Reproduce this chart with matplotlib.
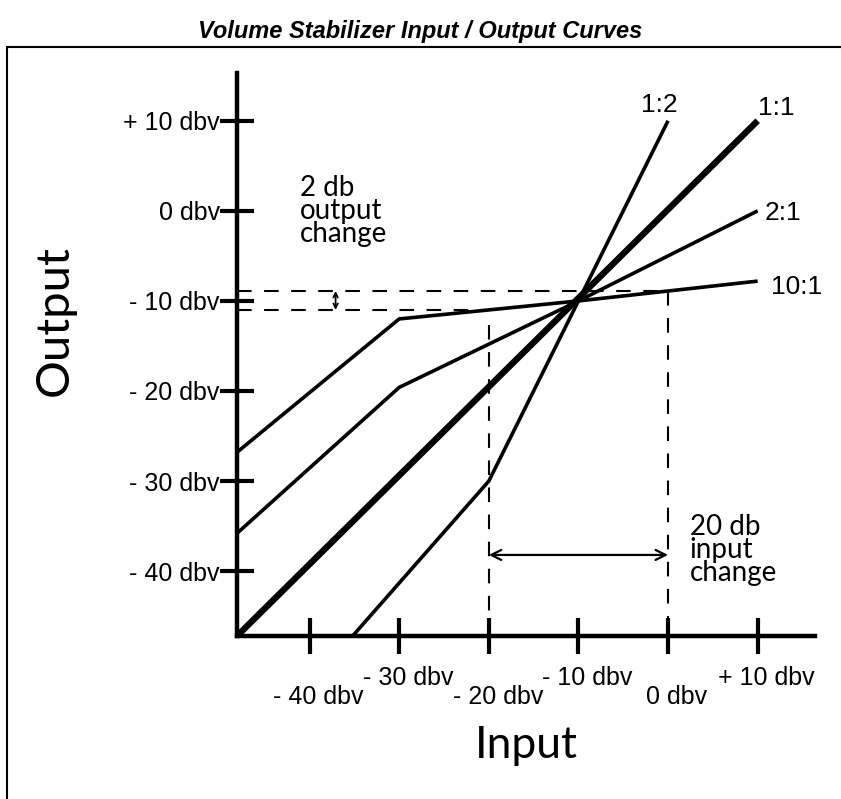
import matplotlib
matplotlib.use('Agg')
import matplotlib.pyplot as plt
from matplotlib.patches import Rectangle

plt.rcParams['font.family'] = ['Liberation Sans', 'DejaVu Sans']

# Tick values and labels (dBV)
x_ticks = [-40, -30, -20, -10, 0, 10]
x_labels = ['- 40 dbv', '- 30 dbv', '- 20 dbv', '- 10 dbv', '0 dbv', '+ 10 dbv']
y_ticks = [-40, -30, -20, -10, 0, 10]
y_labels = ['- 40 dbv', '- 30 dbv', '- 20 dbv', '- 10 dbv', '0 dbv', '+ 10 dbv']

# Input / output curves (input dBV -> output dBV)
in_1to1 = [-48.1, 10]
out_1to1 = [-47.2, 10]
in_1to2 = [-35.2, -20, -10, 0]
out_1to2 = [-47.2, -30, -10, 10]
in_2to1 = [-48.1, -30, -10, 10]
out_2to1 = [-35.8, -19.6, -10, 0]
in_10to1 = [-48.1, -30, -10, 10]
out_10to1 = [-26.8, -12, -10, -7.8]

# Reference levels for the dashed guide lines
out_hi = -8.9    # 10:1 output at 0 dbv input
out_lo = -11.0   # 10:1 output at -20 dbv input
in_hi = 0
in_lo = -20

fig = plt.figure(figsize=(8.41, 7.99), dpi=100)
ax = fig.add_axes([0.2818, 0.2040, 0.6873, 0.7046])
ax.set_xlim(-48.1, 16.4)
ax.set_ylim(-47.2, 15.3)

# outer frame (right / bottom edges fall outside the picture)
fig.patches.append(Rectangle((7 / 841, -0.05), 1.0, (799 - 47) / 799 + 0.05,
                             transform=fig.transFigure, fill=False,
                             edgecolor='black', linewidth=1.5))

fig.text(0.5, 0.960, 'Volume Stabilizer Input / Output Curves',
         ha='center', va='center', fontsize=17, fontweight='bold', style='italic')

# curves
ax.plot(in_1to1, out_1to1, color='black', linewidth=4.6, solid_capstyle='butt')
for xs, ys in [(in_1to2, out_1to2), (in_2to1, out_2to1), (in_10to1, out_10to1)]:
    ax.plot(xs, ys, color='black', linewidth=2.6, solid_joinstyle='miter',
            solid_capstyle='butt')

# dashed guides
ymin = ax.get_ylim()[0]
xmin = ax.get_xlim()[0]
dash = dict(color='black', linewidth=1.5, dashes=(7, 6))
ax.plot([xmin, in_hi], [out_hi, out_hi], **dash)
ax.plot([in_hi, in_hi], [out_hi, ymin], **dash)
ax.plot([xmin, in_lo], [out_lo, out_lo], **dash)
ax.plot([in_lo, in_lo], [-12.7, ymin], **dash)

# arrows
ax.annotate('', xy=(-37.1, out_hi), xytext=(-37.1, out_lo),
            arrowprops=dict(arrowstyle='<->', color='black', lw=1.3,
                            mutation_scale=8, shrinkA=0, shrinkB=0))
ax.annotate('', xy=(in_lo, -38.2), xytext=(in_hi, -38.2),
            arrowprops=dict(arrowstyle='<->', color='black', lw=1.6,
                            mutation_scale=18, shrinkA=0, shrinkB=0))

# curve labels
lab = dict(fontsize=19, ha='center', va='center')
ax.text(-1.0, 11.8, '1:2', **lab)
ax.text(12.1, 11.4, '1:1', **lab)
ax.text(12.8, -0.2, '2:1', **lab)
ax.text(14.3, -8.4, '10:1', **lab)

# notes
note = dict(fontsize=20, family='Lato', ha='left', va='top', linespacing=0.86)
ax.text(-41.1, 4.0, '2 db\noutput\nchange', **note)
ax.text(2.4, -33.6, '20 db\ninput\nchange', **note)

# axes styling
for side in ['top', 'right']:
    ax.spines[side].set_visible(False)
for side in ['left', 'bottom']:
    ax.spines[side].set_linewidth(3.2)
    ax.spines[side].set_capstyle('projecting')

ax.set_yticks(y_ticks)
ax.set_yticklabels(y_labels)
ax.tick_params(axis='y', direction='inout', length=25, width=3, pad=0,
               labelsize=18)
ax.set_xticks(x_ticks)
ax.set_xticklabels([])
ax.tick_params(axis='x', direction='inout', length=26, width=3)
for i, (v, s) in enumerate(zip(x_ticks, x_labels)):
    drop = 0.108 if i % 2 == 0 else 0.075
    ax.text(v + 1.0, -drop, s, transform=ax.get_xaxis_transform(),
            ha='center', va='center', fontsize=18)

ax.text(-0.315, 0.56, 'Output', transform=ax.transAxes, rotation=90,
        ha='center', va='center', fontsize=34, family='Lato')
ax.text(0.5, -0.195, 'Input', transform=ax.transAxes,
        ha='center', va='center', fontsize=32, family='Lato')

fig.savefig('out.png', dpi=100)
